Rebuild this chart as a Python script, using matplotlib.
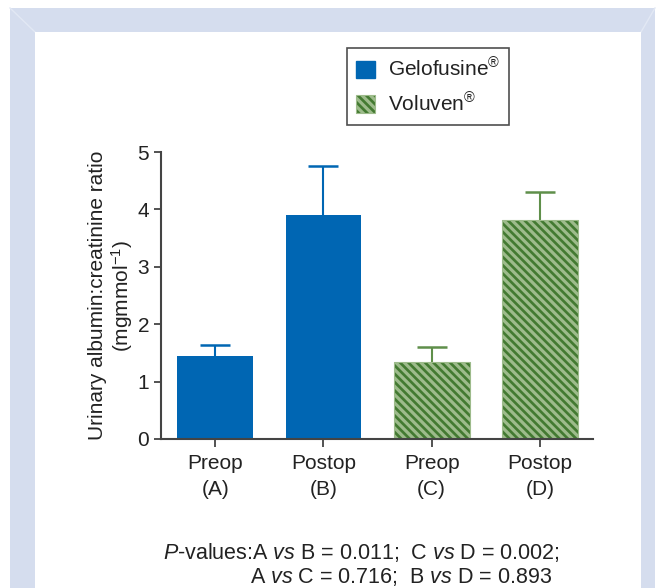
import matplotlib
matplotlib.use("Agg")
import matplotlib.pyplot as plt
from matplotlib.patches import Rectangle, Patch
from matplotlib.lines import Line2D

plt.rcParams["font.family"] = ["Liberation Sans", "DejaVu Sans"]
plt.rcParams["mathtext.fontset"] = "custom"
plt.rcParams["mathtext.rm"] = "Liberation Sans"
plt.rcParams["mathtext.it"] = "Liberation Sans:italic"
plt.rcParams["hatch.linewidth"] = 2.3

# data
groups = ["Preop\n(A)", "Postop\n(B)", "Preop\n(C)", "Postop\n(D)"]
means = [1.45, 3.90, 1.35, 3.82]
errs = [0.19, 0.86, 0.25, 0.49]
fluids = ["Gelofusine", "Gelofusine", "Voluven", "Voluven"]

blue = "#0066b3"
green = "#437a31"
light_green = "#9dbb8b"
stripes = "\\" * 4
fs = 15

fig = plt.figure(figsize=(6.64, 5.88), dpi=100)

# frame around the figure
W, H = 664, 588
fig.patches.append(Rectangle((10 / W, 0), 645 / W, 1 - 8 / H, transform=fig.transFigure,
                             facecolor="#d5ddee", edgecolor="none", zorder=-2))
fig.patches.append(Rectangle((35 / W, 0), 606 / W, 1 - 32 / H, transform=fig.transFigure,
                             facecolor="white", edgecolor="none", zorder=-1))
for x0, x1 in [(10, 35), (655, 641)]:
    fig.lines.append(Line2D([x0 / W, x1 / W], [1 - 8 / H, 1 - 32 / H], transform=fig.transFigure,
                            color="#e2e8f4", lw=1, zorder=-1))

ax = fig.add_axes([161 / W, 1 - 439 / H, 432 / W, 287 / H])
ax.set_facecolor("none")

xs = range(len(groups))
for x, m, e, f in zip(xs, means, errs, fluids):
    if f == "Gelofusine":
        ax.bar(x, m, width=0.7, color=blue, linewidth=0, zorder=2)
        ec = blue
    else:
        ax.bar(x, m, width=0.7, color=green, edgecolor=light_green, hatch=stripes,
               linewidth=0.8, zorder=2)
        ec = "#5f8f4a"
    _, caps, _ = ax.errorbar(x, m, yerr=[[0], [e]], fmt="none", ecolor=ec, elinewidth=1.5,
                             capsize=11, capthick=1.8, zorder=1)
    # only the upper cap
    for c in caps:
        if abs(c.get_ydata()[0] - m) < 1e-9:
            c.set_visible(False)

ax.set_xlim(-0.5, 3.49)
ax.set_ylim(0, 5)
ax.set_yticks([0, 1, 2, 3, 4, 5])
ax.set_xticks(list(xs))
ax.set_xticklabels(groups, fontsize=fs, color="#222222", linespacing=1.45)
ax.tick_params(axis="y", labelsize=fs, labelcolor="#222222", length=5, width=1.3, color="#444444")
ax.tick_params(axis="x", length=6, width=1.3, color="#444444", pad=5)
for s in ["top", "right"]:
    ax.spines[s].set_visible(False)
for s in ["left", "bottom"]:
    ax.spines[s].set_color("#444444")
    ax.spines[s].set_linewidth(1.5)

ax.set_ylabel("Urinary albumin:creatinine ratio\n(mgmmol$^{\u22121}$)", fontsize=fs,
              color="#222222", linespacing=1.1, labelpad=1.5)

handles = [Patch(facecolor=blue, edgecolor=blue),
           Patch(facecolor=green, edgecolor=light_green, hatch=stripes, linewidth=0.8)]
leg = fig.legend(handles, ["Gelofusine$^{\u00ae}$", "Voluven$^{\u00ae}$"],
                 loc="upper left", bbox_to_anchor=(347 / W, 1 - 48 / H), fontsize=fs,
                 frameon=True, fancybox=False, edgecolor="#222222", handlelength=0.9,
                 handleheight=0.9, handletextpad=0.6, borderpad=0.45, labelspacing=0.55,
                 borderaxespad=0)
leg.get_frame().set_linewidth(1.2)
for t in leg.get_texts():
    t.set_color("#222222")

fig.text(163 / W, 1 - 552 / H,
         "$\\it{P}$-values:A $\\it{vs}$ B = 0.011;  C $\\it{vs}$ D = 0.002;",
         fontsize=15.5, color="#222222", va="center", ha="left")
fig.text(250 / W, 1 - 577 / H,
         "A $\\it{vs}$ C = 0.716;  B $\\it{vs}$ D = 0.893",
         fontsize=15.5, color="#222222", va="center", ha="left")

fig.savefig("out.png", dpi=100)
